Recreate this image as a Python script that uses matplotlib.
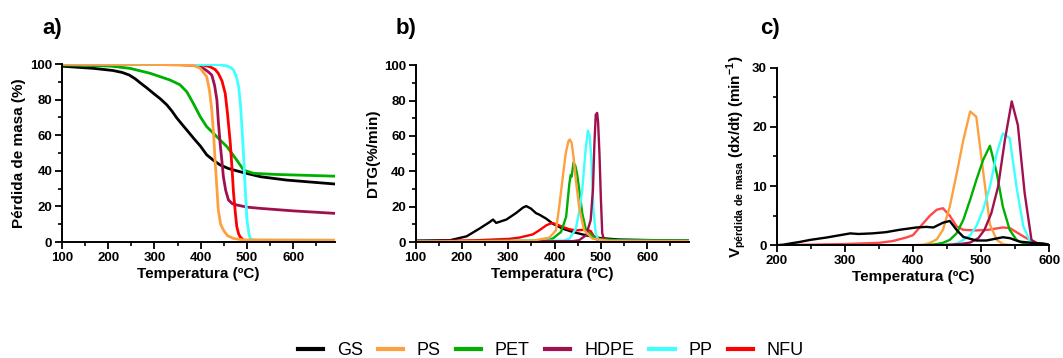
import matplotlib
matplotlib.use("Agg")
import matplotlib.pyplot as plt
from matplotlib.ticker import MultipleLocator

plt.rcParams['font.family'] = ['Liberation Sans', 'DejaVu Sans']
plt.rcParams['mathtext.fontset'] = 'custom'
plt.rcParams['mathtext.rm'] = 'Liberation Sans:bold'
plt.rcParams['mathtext.bf'] = 'Liberation Sans:bold'

series = ["GS", "PS", "PET", "HDPE", "PP", "NFU"]
colors = {"GS": "#000000", "PS": "#FFA040", "PET": "#00B000",
          "HDPE": "#A0104F", "PP": "#40FFFF", "NFU": "#FF0000"}
colors_c = dict(colors, NFU="#FF4848")

# ---------------- Panel a: TGA (mass %) ----------------
tga_gs_x = [100, 168, 210, 230, 245, 258, 270, 284, 298, 313, 327, 338, 348, 359, 370, 384, 399, 413, 428, 442, 460, 485, 529, 586, 690]
tga_gs_y = [98.8, 97.6, 96.4, 95.3, 93.9, 91.8, 89.3, 86.5, 83.5, 80.4, 77, 73.5, 69.8, 66.3, 62.9, 58.5, 54, 49, 45.8, 43.3, 41.3, 39.5, 36.7, 34.8, 32.6]
tga_ps_x = [100, 300, 385, 399, 413, 419, 424, 428, 431, 435, 438, 443, 449, 458, 471, 490, 690]
tga_ps_y = [100, 99.8, 99.2, 97.6, 92.9, 85, 74, 60, 46, 30, 18, 10, 6.7, 3.5, 2, 1.2, 1]
tga_pet_x = [100, 204, 247, 291, 334, 355, 370, 384, 399, 413, 428, 442, 457, 478, 493, 514, 560, 690]
tga_pet_y = [99.5, 98.9, 97.6, 94.8, 91, 88.4, 84.4, 77.9, 70.4, 64.8, 61, 57.3, 53.5, 46, 40.4, 38.6, 38, 37]
tga_hdpe_x = [100, 355, 395, 406, 417, 424, 430, 435, 438, 442, 446, 449, 454, 460, 468, 478, 500, 529, 600, 690]
tga_hdpe_y = [100, 99.7, 99, 97.6, 95.5, 93.8, 88, 79.8, 68, 55.4, 45, 36.7, 29, 23.6, 21.6, 20.8, 19.6, 18.9, 17.5, 16.1]
tga_pp_x = [100, 440, 457, 465, 471, 477, 482, 486, 489, 493, 496, 500, 504, 507, 512, 525, 690]
tga_pp_y = [100, 99.7, 98.9, 98, 96.6, 93, 87.3, 77, 64.8, 47, 31, 12.4, 5, 2, 1.2, 1, 1]
tga_nfu_x = [100, 400, 420, 431, 438, 446, 453, 458, 464, 468, 471, 475, 478, 482, 485, 492, 500]
tga_nfu_y = [100, 99.8, 98.5, 97, 94.8, 90.5, 83.5, 72, 55.4, 40, 27.3, 16, 8.6, 4.5, 3, 1.1, 0.6]

# ---------------- Panel b: DTG (%/min) ----------------
dtg_gs_x = [100, 174, 210, 238, 260, 267, 274, 296, 317, 332, 339, 349, 360, 367, 382, 396, 418, 439, 468, 496, 539, 600, 688]
dtg_gs_y = [0.8, 1, 3.2, 7.6, 11.3, 12.7, 10.8, 12.7, 16.4, 19.5, 20.3, 18.9, 16.3, 15.5, 13.2, 10.4, 7.5, 5.7, 3.8, 2.3, 1.4, 1.1, 0.8]
dtg_ps_x = [100, 350, 389, 403, 410, 417, 424, 430, 433, 437, 441, 446, 453, 464, 482, 520, 688]
dtg_ps_y = [0.3, 0.6, 2.5, 6.6, 19.8, 35, 50, 57, 58, 56, 48, 35, 19.8, 6.6, 1.9, 0.6, 0.5]
dtg_pet_x = [100, 380, 396, 414, 425, 432, 435, 437, 441, 445, 449, 453, 460, 468, 489, 540, 688]
dtg_pet_y = [0.3, 0.8, 1.9, 5.7, 14.2, 33, 38, 37, 45, 43, 38, 30, 16, 6.6, 1.9, 1, 0.8]
dtg_hdpe_x = [100, 440, 453, 468, 478, 483, 486, 489, 492, 494, 497, 500, 503, 507, 525, 688]
dtg_hdpe_y = [0.2, 0.5, 1, 3.8, 12.3, 30, 55, 72, 73, 68, 50, 25, 5, 1, 0.5, 0.5]
dtg_pp_x = [100, 420, 432, 446, 455, 460, 467, 472, 476, 480, 484, 489, 495, 520, 688]
dtg_pp_y = [0.2, 0.8, 1.9, 7.5, 19.8, 30, 52, 63, 60, 45, 18, 4.7, 1, 0.6, 0.5]
dtg_nfu_x = [100, 231, 303, 324, 353, 367, 382, 390, 396, 406, 418, 432, 446, 458, 468, 478, 486, 495, 520]
dtg_nfu_y = [0.3, 1.0, 1.8, 2.5, 4.3, 6.6, 9.4, 10.3, 10.7, 9.8, 8.5, 7.2, 6.6, 6.8, 7, 6.2, 2.8, 0.6, 0.3]

# ---------------- Panel c: mass loss rate (min^-1) ----------------
v_gs_x = [200, 210, 220, 234, 249, 273, 298, 308, 320, 340, 360, 380, 405, 420, 430, 444, 454, 464, 474, 493, 508, 532, 542, 557, 575, 591, 600]
v_gs_y = [0, 0.1, 0.3, 0.56, 0.9, 1.3, 1.8, 2.0, 1.9, 2.0, 2.2, 2.6, 3.0, 3.1, 3.0, 3.8, 4.1, 2.6, 1.4, 0.8, 0.8, 1.35, 1.2, 0.6, 0.4, 0.3, 0.1]
v_ps_x = [200, 400, 415, 425, 435, 444, 454, 464, 474, 484, 493, 503, 513, 523, 532, 545, 600]
v_ps_y = [0, 0, 0.1, 0.4, 1.0, 2.6, 6.5, 12, 17.8, 22.6, 21.7, 12.5, 3.5, 0.9, 0.2, 0, 0]
v_pet_x = [200, 420, 435, 444, 454, 464, 474, 484, 493, 503, 513, 523, 532, 542, 552, 562, 575, 600]
v_pet_y = [0, 0, 0.2, 0.4, 0.9, 2, 4.3, 7.7, 11, 14.4, 16.8, 12.2, 6.5, 2.6, 0.9, 0.3, 0, 0]
v_hdpe_x = [200, 440, 469, 484, 496, 505, 515, 525, 535, 545, 554, 564, 574, 584, 600]
v_hdpe_y = [0, 0, 0.2, 0.45, 1.2, 2.6, 5.4, 9.9, 17.8, 24.3, 20.3, 8.8, 0.9, 0.2, 0]
v_pp_x = [200, 440, 454, 464, 474, 484, 493, 503, 513, 523, 532, 542, 552, 562, 572, 585, 600]
v_pp_y = [0, 0, 0.1, 0.3, 0.9, 1.7, 3.2, 6, 9.9, 15.5, 18.9, 18.1, 9.9, 3.2, 0.6, 0.1, 0]
v_nfu_x = [200, 250, 300, 350, 370, 390, 400, 415, 425, 435, 444, 454, 464, 474, 493, 510, 532, 542, 552, 562, 576, 590, 600]
v_nfu_y = [0, 0.1, 0.2, 0.4, 0.7, 1.3, 1.7, 3.7, 5.0, 6.0, 6.25, 5.0, 3.2, 2.6, 2.5, 2.6, 3.0, 2.9, 2.2, 1.5, 0.6, 0.1, 0]

tga = {"GS": (tga_gs_x, tga_gs_y), "PS": (tga_ps_x, tga_ps_y), "PET": (tga_pet_x, tga_pet_y),
       "HDPE": (tga_hdpe_x, tga_hdpe_y), "PP": (tga_pp_x, tga_pp_y), "NFU": (tga_nfu_x, tga_nfu_y)}
dtg = {"GS": (dtg_gs_x, dtg_gs_y), "PS": (dtg_ps_x, dtg_ps_y), "PET": (dtg_pet_x, dtg_pet_y),
       "HDPE": (dtg_hdpe_x, dtg_hdpe_y), "PP": (dtg_pp_x, dtg_pp_y), "NFU": (dtg_nfu_x, dtg_nfu_y)}
vel = {"GS": (v_gs_x, v_gs_y), "PS": (v_ps_x, v_ps_y), "PET": (v_pet_x, v_pet_y),
       "HDPE": (v_hdpe_x, v_hdpe_y), "PP": (v_pp_x, v_pp_y), "NFU": (v_nfu_x, v_nfu_y)}

fig = plt.figure(figsize=(10.63, 3.58), dpi=100)
ax_a = fig.add_axes([0.0583, 0.324, 0.2567, 0.497])
ax_b = fig.add_axes([0.391, 0.324, 0.257, 0.494])
ax_c = fig.add_axes([0.7307, 0.315, 0.2563, 0.496])


def style(ax, xlim, ylim, xmaj, ymaj):
    ax.set_xlim(*xlim)
    ax.set_ylim(*ylim)
    ax.xaxis.set_major_locator(MultipleLocator(xmaj))
    ax.xaxis.set_minor_locator(MultipleLocator(xmaj / 2))
    ax.yaxis.set_major_locator(MultipleLocator(ymaj))
    ax.yaxis.set_minor_locator(MultipleLocator(ymaj / 2))
    for s in ("top", "right"):
        ax.spines[s].set_visible(False)
    for s in ("left", "bottom"):
        ax.spines[s].set_linewidth(1.4)
    ax.tick_params(which="major", length=5, width=1.3, labelsize=9.5, pad=2)
    ax.tick_params(which="minor", length=3, width=1.2)
    for lab in ax.get_xticklabels() + ax.get_yticklabels():
        lab.set_fontweight("bold")
    ax.set_xlabel("Temperatura (ºC)", fontsize=11, fontweight="bold", labelpad=2)


order_a = ["GS", "PET", "HDPE", "NFU", "PP", "PS"]
handles = {}
for name in order_a:
    x, y = tga[name]
    handles[name], = ax_a.plot(x, y, color=colors[name], lw=2.0, label=name)
style(ax_a, (100, 690), (0, 100), 100, 20)
ax_a.set_ylabel("Pérdida de masa (%)", fontsize=11, fontweight="bold", labelpad=3)

for name in ["GS", "NFU", "PET", "PP", "HDPE", "PS"]:
    x, y = dtg[name]
    ax_b.plot(x, y, color=colors[name], lw=1.7)
style(ax_b, (100, 690), (0, 100), 100, 20)
ax_b.set_ylabel("DTG(%/min)", fontsize=11, fontweight="bold", labelpad=3)

for name in ["NFU", "PS", "PET", "PP", "HDPE", "GS"]:
    x, y = vel[name]
    ax_c.plot(x, y, color=colors_c[name], lw=1.7)
style(ax_c, (200, 600), (0, 30), 100, 10)
ax_c.set_ylabel(r"V$_{\mathrm{pérdida\ de\ masa}}$ (dx/dt) (min$^{\mathrm{-1}}$)",
                fontsize=11, fontweight="bold", labelpad=3)

fig.text(0.040, 0.905, "a)", fontsize=16, fontweight="bold")
fig.text(0.372, 0.905, "b)", fontsize=16, fontweight="bold")
fig.text(0.715, 0.905, "c)", fontsize=16, fontweight="bold")

leg = fig.legend([handles[n] for n in series], series, loc="center", ncol=6,
                 bbox_to_anchor=(0.518, 0.02), frameon=False, fontsize=13,
                 handlelength=1.4, handletextpad=0.75, columnspacing=0.85)
for line in leg.get_lines():
    line.set_linewidth(3)

fig.savefig("out.png", dpi=100)
